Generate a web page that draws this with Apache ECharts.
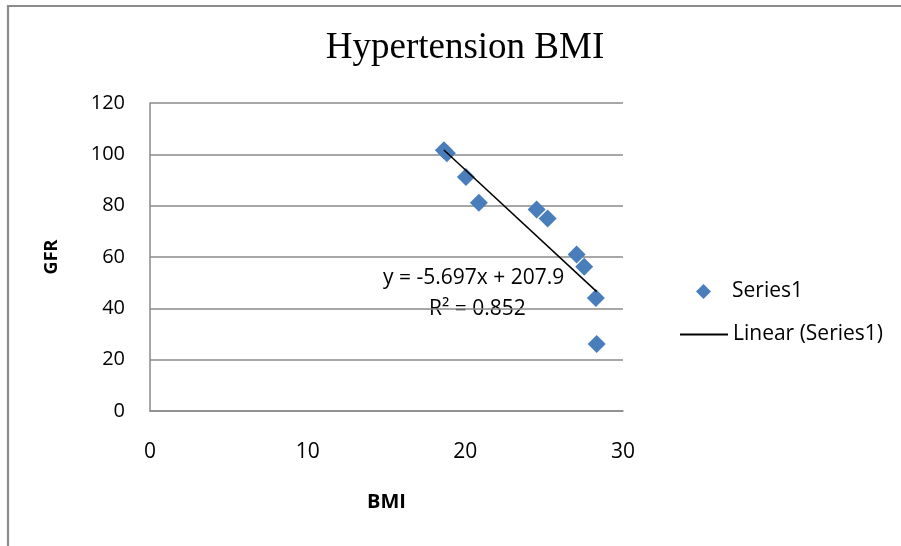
<!DOCTYPE html>
<html>
<head>
<meta charset="utf-8">
<script src="https://cdn.jsdelivr.net/npm/echarts@6/dist/echarts.min.js"></script>
<style>
  html, body { margin: 0; padding: 0; background: #ffffff; }
  #chart { width: 901px; height: 546px; }
</style>
</head>
<body>
<div id="chart"></div>
<script>
// BMI (x) and GFR (y) for each hypertension patient
const bmi = [18.64, 18.83, 20.04, 20.86, 24.52, 25.22, 27.06, 27.54, 28.28, 28.33];
const gfr = [101.6, 100.4, 91.2, 81.1, 78.5, 75.0, 61.0, 56.2, 44.0, 26.1];

// Linear trend line coefficients, as printed on the chart
const slope = -5.697;
const intercept = 207.9;
const rSquared = 0.852;

const xTicks = [0, 10, 20, 30];
const yTicks = [0, 20, 40, 60, 80, 100, 120];

const points = bmi.map((x, i) => [x, gfr[i]]);
const xMin = Math.min(...bmi);
const xMax = Math.max(...bmi);
const trend = [[xMin, intercept + slope * xMin], [xMax, intercept + slope * xMax]];

const sans = '"Open Sans", "Liberation Sans", sans-serif';
const gridColor = '#8a8a8a';

const chart = echarts.init(document.getElementById('chart'), null, { renderer: 'canvas' });

chart.setOption({
  animation: false,
  backgroundColor: '#ffffff',
  title: {
    text: 'Hypertension BMI',
    left: 460,
    top: 25,
    textAlign: 'center',
    textStyle: { fontFamily: '"Liberation Serif", "Times New Roman", serif', fontSize: 37, fontWeight: 'normal', color: '#000' }
  },
  grid: { left: 150, right: 278, top: 103, bottom: 135 },
  xAxis: {
    type: 'value',
    min: xTicks[0],
    max: xTicks[xTicks.length - 1],
    interval: 10,
    name: 'BMI',
    nameLocation: 'middle',
    nameGap: 81,
    nameTextStyle: { fontFamily: sans, fontSize: 20, fontWeight: 'bold', color: '#000' },
    axisLine: { show: true, onZero: false, lineStyle: { color: gridColor, width: 1.5 } },
    axisTick: { show: false },
    splitLine: { show: false },
    axisLabel: { fontFamily: sans, fontSize: 21, color: '#000', margin: 31 }
  },
  yAxis: {
    type: 'value',
    min: yTicks[0],
    max: yTicks[yTicks.length - 1],
    interval: 20,
    name: 'GFR',
    nameLocation: 'middle',
    nameGap: 89,
    nameRotate: 90,
    nameTextStyle: { fontFamily: sans, fontSize: 18, fontWeight: 'bold', color: '#000' },
    axisLine: { show: true, lineStyle: { color: gridColor, width: 1.5 } },
    axisTick: { show: false },
    splitLine: { show: true, lineStyle: { color: gridColor, width: 1.5 } },
    axisLabel: { fontFamily: sans, fontSize: 20, color: '#000', margin: 25 }
  },
  legend: [
    {
      data: [{ name: 'Series1', icon: 'diamond' }],
      left: 691,
      top: 276,
      itemWidth: 15,
      itemHeight: 15,
      itemGap: 0,
      textStyle: { fontFamily: sans, fontSize: 21, color: '#000', padding: [0, 0, 0, 16] }
    },
    {
      data: [{ name: 'Linear (Series1)', icon: 'rect' }],
      left: 675,
      top: 319,
      itemWidth: 48,
      itemHeight: 2,
      textStyle: { fontFamily: sans, fontSize: 21, color: '#000' }
    }
  ],
  graphic: [
    {
      type: 'polyline',
      silent: true,
      shape: { points: [[8, 546], [8, 6], [901, 6]] },
      style: { stroke: '#8c8c8c', lineWidth: 2.2, fill: null }
    },
    {
      type: 'text',
      left: 383,
      top: 268,
      style: { text: 'y = ' + slope.toFixed(3) + 'x + ' + intercept.toFixed(1), fontFamily: sans, fontSize: 21, fill: '#000' }
    },
    {
      type: 'text',
      left: 429,
      top: 299,
      style: { text: 'R² = ' + rSquared.toFixed(3), fontFamily: sans, fontSize: 21, fill: '#000' }
    }
  ],
  series: [
    {
      name: 'Series1',
      type: 'scatter',
      data: points,
      symbol: 'diamond',
      symbolSize: 18,
      itemStyle: { color: '#4a7ebb', opacity: 1 },
      z: 3
    },
    {
      name: 'Linear (Series1)',
      type: 'line',
      data: trend,
      symbol: 'none',
      lineStyle: { color: '#000', width: 1.5 },
      itemStyle: { color: '#000' },
      z: 4
    }
  ]
});
</script>
</body>
</html>
